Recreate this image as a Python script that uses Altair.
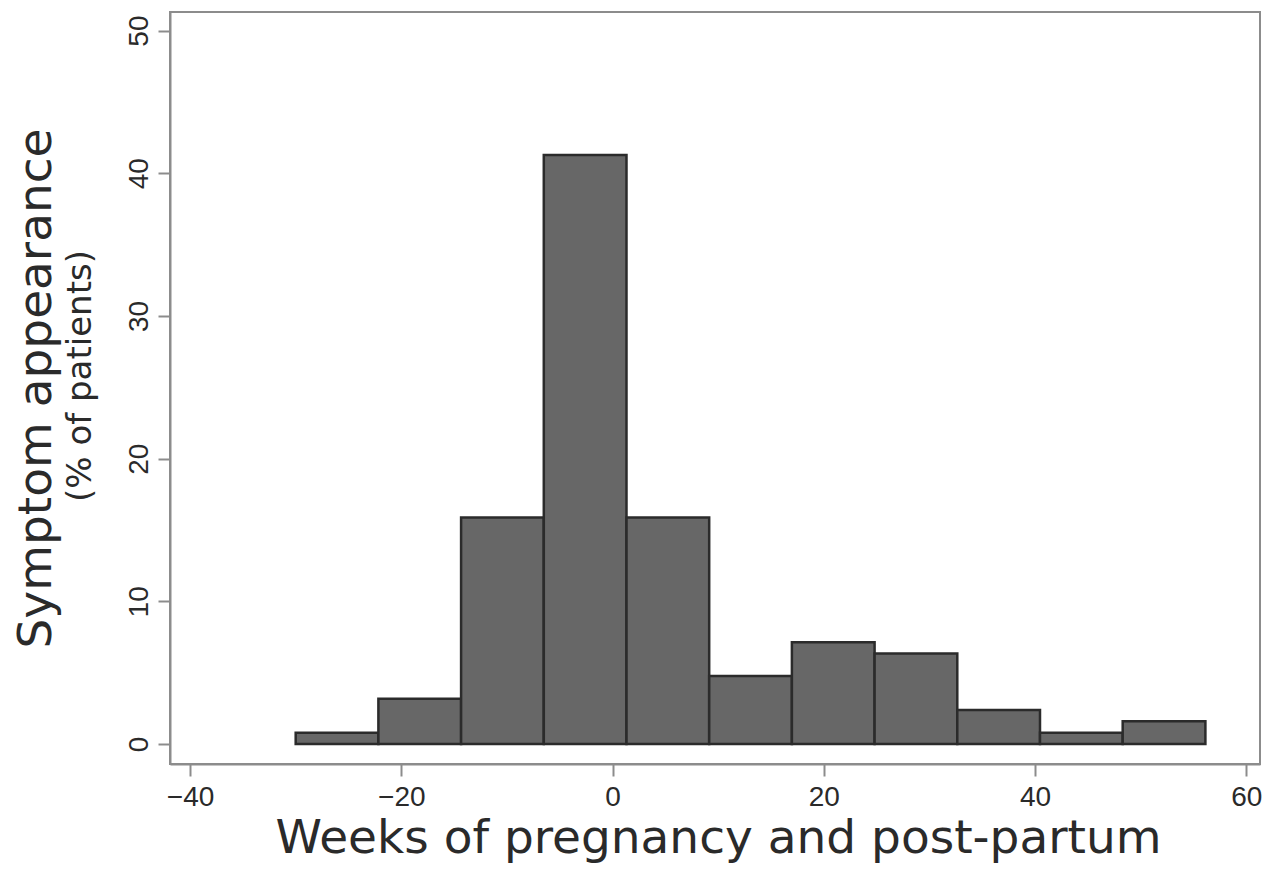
import altair as alt
import pandas as pd

# Histogram bins (weeks)
bin_start = [-30.0, -22.17, -14.34, -6.51, 1.32, 9.15, 16.98, 24.81, 32.64, 40.47, 48.30]
bin_end = [-22.17, -14.34, -6.51, 1.32, 9.15, 16.98, 24.81, 32.64, 40.47, 48.30, 56.13]
# Percent of patients per bin
pct = [0.79, 3.17, 15.87, 41.27, 15.87, 4.76, 7.14, 6.35, 2.38, 0.79, 1.59]

x_ticks = [-40, -20, 0, 20, 40, 60]
y_ticks = [0, 10, 20, 30, 40, 50]

x_title = "Weeks of pregnancy and post-partum"
y_title = "Symptom appearance"
y_subtitle = "(% of patients)"

df = pd.DataFrame({"start": bin_start, "end": bin_end, "pct": pct})

W, H = 1090, 752
GRAY = "#8c8c8c"
TXT = "#2a2a2a"

bars = alt.Chart(df).mark_rect(
    fill="#676767", stroke="#2b2b2b", strokeWidth=2.5
).encode(
    x=alt.X("start:Q",
            scale=alt.Scale(domain=[-41.9, 61.3], nice=False, zero=False),
            axis=alt.Axis(values=x_ticks, title=x_title, format="d",
                          labelPadding=7, titleX=548, titleY=88,
                          titleBaseline="alphabetic", titleFont="DejaVu Sans",
                          titleFontSize=47, titleFontWeight="normal", titleColor=TXT)),
    x2="end:Q",
    y=alt.Y("pct:Q",
            scale=alt.Scale(domain=[-1.4, 51.3], nice=False, zero=False),
            axis=alt.Axis(values=y_ticks, title=y_title, format="d",
                          labelAngle=-90, labelAlign="center", labelBaseline="alphabetic",
                          labelPadding=11, titleX=-120, titleY=376, titleAngle=270,
                          titleAlign="center", titleBaseline="alphabetic",
                          titleFont="DejaVu Sans", titleFontSize=47,
                          titleFontWeight="normal", titleColor=TXT)),
    y2=alt.datum(0),
)

sub = alt.Chart(pd.DataFrame({"t": [y_subtitle]})).mark_text(
    angle=270, align="center", baseline="alphabetic",
    font="DejaVu Sans", fontSize=34, color=TXT
).encode(text="t:N", x=alt.value(-79), y=alt.value(364))

chart = alt.layer(bars, sub).properties(
    width=W, height=H,
    autosize=alt.AutoSizeParams(type="none"),
    padding={"left": 162, "top": 4, "right": 2, "bottom": 99},
    background="white",
).configure_view(
    stroke=GRAY, strokeWidth=2
).configure_axis(
    grid=False, labelFont="Liberation Sans", labelFontSize=28, labelColor=TXT,
    tickColor=GRAY, tickWidth=2, tickSize=12,
    domainColor=GRAY, domainWidth=2,
)

chart.save("out.html", embed_options={"renderer": "svg", "actions": False})
